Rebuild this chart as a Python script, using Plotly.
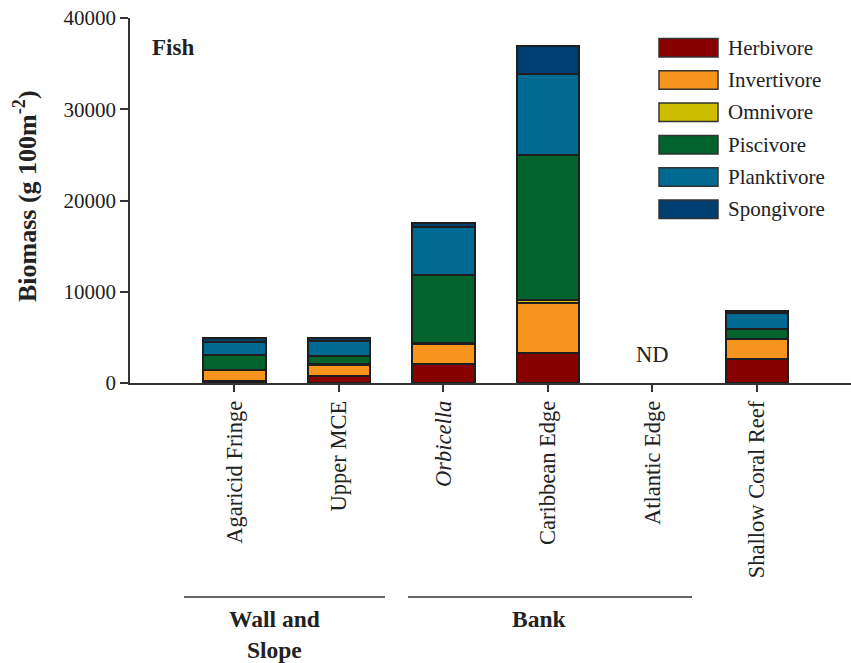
import plotly.graph_objects as go

categories = ["Agaricid Fringe", "Upper MCE", "Orbicella", "Caribbean Edge", "Atlantic Edge", "Shallow Coral Reef"]
tick_labels = ["Agaricid Fringe", "Upper MCE", "<i>Orbicella</i>", "Caribbean Edge", "Atlantic Edge", "Shallow Coral Reef"]

herbivore = [250, 800, 2110, 3250, None, 2630]
invertivore = [1130, 1200, 2150, 5470, None, 2190]
omnivore = [50, 100, 100, 330, None, 50]
piscivore = [1600, 870, 7480, 15900, None, 1090]
planktivore = [1460, 1600, 5220, 8900, None, 1750]
spongivore = [400, 400, 500, 3060, None, 150]

series_names = ["Herbivore", "Invertivore", "Omnivore", "Piscivore", "Planktivore", "Spongivore"]
series_values = [herbivore, invertivore, omnivore, piscivore, planktivore, spongivore]
series_colors = ["#880000", "#F7941D", "#CDBD00", "#03632D", "#006A92", "#003F6F"]

group_labels = ["<b>Wall and<br>Slope</b>", "<b>Bank</b>"]

FONT = "Liberation Serif, Times New Roman, serif"
INK = "#222222"

fig = go.Figure()
for name, vals, col in zip(series_names, series_values, series_colors):
    fig.add_trace(go.Bar(
        x=categories, y=vals, name=name, width=0.6,
        marker=dict(color=col, line=dict(color="#1e1e1e", width=2)),
        showlegend=False,
    ))

# plot geometry helpers (pixels -> paper)
L, T, W, H = 130, 18, 721, 365
def px(x):
    return (x - L) / W
def py(y):
    return (T + H - y) / H

shapes = []
annotations = []

# manual legend
for i, (name, col) in enumerate(zip(series_names, series_colors)):
    top = 38.5 + 32.3 * i
    bot = top + 18.5
    shapes.append(dict(type="rect", xref="paper", yref="paper",
                       x0=px(659), x1=px(718), y0=py(bot), y1=py(top),
                       fillcolor=col, line=dict(color="#333333", width=1.5)))
    annotations.append(dict(xref="paper", yref="paper", x=px(726), y=py((top + bot) / 2),
                            text=name, showarrow=False, xanchor="left", yanchor="middle",
                            font=dict(family=FONT, size=21, color=INK)))

# group lines and labels
shapes.append(dict(type="line", xref="paper", yref="paper", x0=px(184), x1=px(385),
                   y0=py(597), y1=py(597), line=dict(color="#333333", width=1.5)))
shapes.append(dict(type="line", xref="paper", yref="paper", x0=px(408), x1=px(692),
                   y0=py(597), y1=py(597), line=dict(color="#333333", width=1.5)))
annotations.append(dict(xref="paper", yref="paper", x=px(274), y=py(634.5), text=group_labels[0],
                        showarrow=False, xanchor="center", yanchor="middle",
                        font=dict(family=FONT, size=23.5, color=INK)))
annotations.append(dict(xref="paper", yref="paper", x=px(539), y=py(619), text=group_labels[1],
                        showarrow=False, xanchor="center", yanchor="middle",
                        font=dict(family=FONT, size=23.5, color=INK)))

# panel label
annotations.append(dict(xref="paper", yref="paper", x=px(150), y=py(47), text="<b>Fish</b>",
                        showarrow=False, xanchor="left", yanchor="middle",
                        font=dict(family=FONT, size=23, color=INK)))
# ND
annotations.append(dict(xref="x", yref="y", x="Atlantic Edge", y=3100, text="ND",
                        showarrow=False, xanchor="center", yanchor="middle",
                        font=dict(family=FONT, size=22.5, color=INK)))
# y title
annotations.append(dict(xref="paper", yref="paper", x=px(25), y=py(196),
                        text="<b>Biomass (g 100m<sup>-2</sup>)</b>", textangle=-90,
                        showarrow=False, xanchor="center", yanchor="middle",
                        font=dict(family=FONT, size=26, color=INK)))

fig.update_layout(
    width=851, height=663,
    margin=dict(l=L, r=851 - L - W, t=T, b=663 - T - H),
    barmode="stack",
    plot_bgcolor="white", paper_bgcolor="white",
    font=dict(family=FONT, size=21, color=INK),
    shapes=shapes, annotations=annotations,
)
fig.update_xaxes(
    type="category", categoryorder="array", categoryarray=categories,
    range=[-1, 5.9], tickvals=categories, ticktext=tick_labels, tickangle=-90,
    ticks="outside", ticklen=7, tickwidth=1.5, tickcolor="#333333",
    showline=True, linecolor="#333333", linewidth=1.5, showgrid=False, zeroline=False,
    tickfont=dict(family=FONT, size=22.5, color=INK),
)
fig.update_yaxes(
    range=[0, 40000], tickvals=[0, 10000, 20000, 30000, 40000], tickformat="d",
    ticks="outside", ticklen=8, tickwidth=1.5, tickcolor="#333333",
    showline=True, linecolor="#333333", linewidth=1.5, showgrid=False, zeroline=False,
    tickfont=dict(family=FONT, size=21, color=INK),
)

fig.write_html("out.html")
